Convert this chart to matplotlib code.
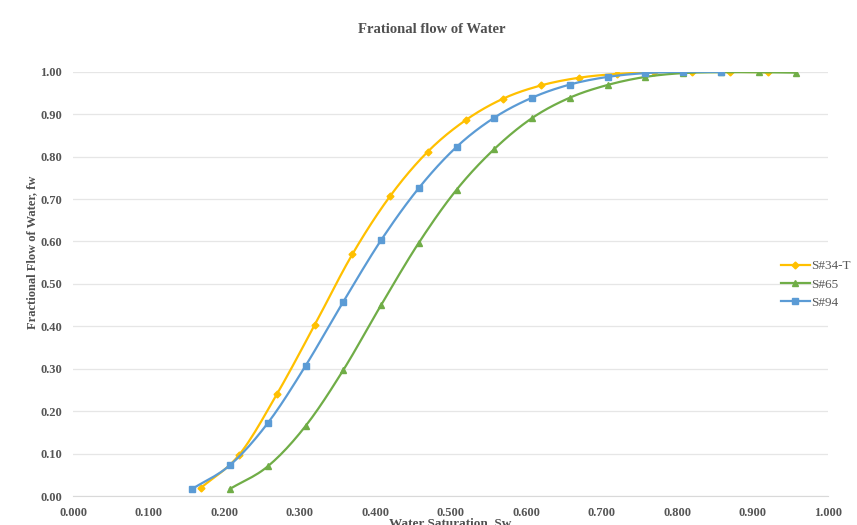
import numpy as np
import matplotlib.pyplot as plt

# water saturation / fractional flow
sw_34t = [0.170, 0.220, 0.270, 0.320, 0.370, 0.420, 0.470, 0.520, 0.570, 0.620,
          0.670, 0.720, 0.770, 0.820, 0.870, 0.920]
fw_34t = [0.020, 0.097, 0.240, 0.403, 0.570, 0.707, 0.812, 0.886, 0.937, 0.968,
          0.986, 0.995, 0.999, 1.000, 1.000, 0.999]

sw_65 = [0.208, 0.258, 0.308, 0.358, 0.408, 0.458, 0.508, 0.558, 0.608, 0.658,
         0.708, 0.758, 0.808, 0.858, 0.908, 0.958]
fw_65 = [0.017, 0.070, 0.165, 0.297, 0.450, 0.597, 0.722, 0.818, 0.891, 0.939,
         0.969, 0.988, 0.997, 0.999, 0.999, 0.998]

sw_94 = [0.158, 0.208, 0.258, 0.308, 0.358, 0.408, 0.458, 0.508, 0.558, 0.608,
         0.658, 0.708, 0.758, 0.808, 0.858]
fw_94 = [0.017, 0.073, 0.172, 0.307, 0.458, 0.603, 0.726, 0.823, 0.892, 0.939,
         0.970, 0.988, 0.997, 1.000, 1.000]

labels = ["S#34-T", "S#65", "S#94"]


def smooth(x, y, n=12):
    # catmull-rom through the points, like excel's smoothed line
    x = np.asarray(x, float)
    y = np.asarray(y, float)
    px = np.concatenate([[2*x[0]-x[1]], x, [2*x[-1]-x[-2]]])
    py = np.concatenate([[2*y[0]-y[1]], y, [2*y[-1]-y[-2]]])
    t = np.linspace(0, 1, n, endpoint=False)
    xs, ys = [], []
    for i in range(1, len(px)-2):
        for p, out in ((px, xs), (py, ys)):
            p0, p1, p2, p3 = p[i-1], p[i], p[i+1], p[i+2]
            out.extend(0.5*((2*p1) + (-p0+p2)*t + (2*p0-5*p1+4*p2-p3)*t**2
                            + (-p0+3*p1-3*p2+p3)*t**3))
    xs.append(x[-1])
    ys.append(y[-1])
    return xs, ys


plt.rcParams['font.family'] = ['Liberation Serif', 'DejaVu Serif']
grey = '#595959'

fig = plt.figure(figsize=(8.57, 5.25), dpi=100)
ax = fig.add_axes([0.0852, 0.0552, 0.881, 0.808])

series = [(sw_34t, fw_34t, '#FFC000', 'D', 3.5),
          (sw_65, fw_65, '#70AD47', '^', 4.5),
          (sw_94, fw_94, '#5B9BD5', 's', 5)]
for (x, y, c, m, ms), lab in zip(series, labels):
    xs, ys = smooth(x, y)
    ax.plot(xs, ys, color=c, lw=1.6)
    ax.plot(x, y, ls='none', color=c, marker=m, ms=ms)
    ax.plot([], [], color=c, lw=1.6, marker=m, ms=ms, label=lab)

ax.set_xlim(0, 1.0)
ax.set_ylim(0, 1.0)
ax.set_xticks(np.arange(0, 1.01, 0.1))
ax.set_yticks(np.arange(0, 1.01, 0.1))
ax.set_xticklabels(["%.3f" % v for v in np.arange(0, 1.01, 0.1)])
ax.set_yticklabels(["%.2f" % v for v in np.arange(0, 1.01, 0.1)])
ax.tick_params(length=0, labelsize=9, labelcolor='#555555', pad=8)
for lab in ax.get_xticklabels() + ax.get_yticklabels():
    lab.set_fontweight('bold')

ax.grid(axis='y', color='#e6e6e6', lw=0.9)
ax.set_axisbelow(True)
for s in ['top', 'right', 'left']:
    ax.spines[s].set_visible(False)
ax.spines['bottom'].set_color('#d9d9d9')

fig.text(0.504, 0.943, "Frational flow of Water", ha='center', va='center',
         fontsize=10.5, fontweight='bold', color='#505050')
fig.text(0.525, 0.004, "Water Saturation, Sw", ha='center', va='center',
         fontsize=9.5, fontweight='bold', color='#505050')
fig.text(0.038, 0.52, "Fractional Flow of Water, fw", ha='center', va='center',
         rotation=90, fontsize=9, fontweight='bold', color='#505050')

fig.legend(loc='center left', bbox_to_anchor=(0.897, 0.458), frameon=False,
           fontsize=9.5, handlelength=2.2, handletextpad=0.1, labelspacing=0.45,
           labelcolor=grey)

fig.savefig("out.png", dpi=100)
